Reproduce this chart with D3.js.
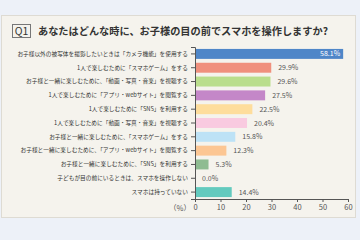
<!DOCTYPE html>
<html>
<head>
<meta charset="utf-8">
<script src="https://cdn.jsdelivr.net/npm/d3@7"></script>
<style>
  body { margin: 0; background: #edf1f8; }
  svg { display: block; font-family: "Noto Sans CJK JP", sans-serif; }
</style>
</head>
<body>
<div id="chart"></div>
<script>
// Survey answers (%), top to bottom
const categories = [
    "お子様以外の被写体を撮影したいときは「カメラ機能」を使用する",
    "1人で楽しむために「スマホゲーム」をする",
    "お子様と一緒に楽しむために、「動画・写真・音楽」を視聴する",
    "1人で楽しむために「アプリ・webサイト」を閲覧する",
    "1人で楽しむために「SNS」を利用する",
    "1人で楽しむために「動画・写真・音楽」を視聴する",
    "お子様と一緒に楽しむために、「スマホゲーム」をする",
    "お子様と一緒に楽しむために、「アプリ・webサイト」を閲覧する",
    "お子様と一緒に楽しむために、「SNS」を利用する",
    "子どもが目の前にいるときは、スマホを操作しない",
    "スマホは持っていない"
];
const values = [58.1, 29.9, 29.6, 27.5, 22.5, 20.4, 15.8, 12.3, 5.3, 0.0, 14.4];
const barColors = ["#4f86c8", "#f0907d", "#bade8c", "#c487c8", "#fedd9c", "#f9cae0",
                   "#bde2f6", "#fcc693", "#8fbc91", "#cccccc", "#63cabe"];
const xTicks = [0, 10, 20, 30, 40, 50, 60];

const W = 360, H = 240;
const svg = d3.select("#chart").append("svg").attr("width", W).attr("height", H);

// panel
svg.append("rect").attr("x", 1.5).attr("y", 15.5).attr("width", 354).attr("height", 202)
    .attr("fill", "#f5f3ed").attr("stroke", "#dedbd3");

// title
svg.append("rect").attr("x", 12.5).attr("y", 24.5).attr("width", 18).attr("height", 13)
    .attr("fill", "none").attr("stroke", "#777");
svg.append("text").attr("x", 21.5).attr("y", 35).attr("text-anchor", "middle")
    .attr("font-size", 10.5).attr("fill", "#333").text("Q1");
svg.append("text").attr("x", 38).attr("y", 35)
    .attr("font-size", 10.2).attr("font-weight", "bold").attr("fill", "#333")
    .text("あなたはどんな時に、お子様の目の前でスマホを操作しますか?");

const x = d3.scaleLinear().domain([0, 60]).range([195, 348]);
const y = d3.scaleBand().domain(categories).range([47, 199]).paddingInner(0.28).paddingOuter(0.14);

const g = svg.append("g");

// bars
g.selectAll(".bar")
    .data(categories)
    .enter()
    .append("rect")
    .attr("class", "bar")
    .attr("x", x(0))
    .attr("y", d => y(d))
    .attr("width", (d, i) => x(values[i]) - x(0))
    .attr("height", y.bandwidth())
    .attr("fill", (d, i) => barColors[i]);

// value labels
g.selectAll(".val")
    .data(categories)
    .enter()
    .append("text")
    .attr("class", "val")
    .attr("x", (d, i) => i === 0 ? x(values[i]) - 3 : x(values[i]) + 7)
    .attr("y", d => y(d) + y.bandwidth() / 2 + 2.5)
    .attr("text-anchor", (d, i) => i === 0 ? "end" : "start")
    .attr("font-size", 7)
    .attr("fill", (d, i) => i === 0 ? "#fff" : "#555")
    .text((d, i) => values[i].toFixed(1) + "%");

// y axis
const yAxis = d3.axisLeft(y).tickSize(4).tickPadding(3);
const ya = g.append("g").attr("transform", `translate(${x(0)},0)`).call(yAxis);
ya.select(".domain").attr("stroke", "#555");
ya.selectAll(".tick line").attr("stroke", "#555");
ya.selectAll(".tick text").attr("font-size", 5.7).attr("fill", "#333")
    .attr("font-family", "Noto Sans CJK JP, sans-serif");

// x axis
const xAxis = d3.axisBottom(x).tickValues(xTicks).tickSize(3).tickPadding(3).tickSizeOuter(0);
const xa = g.append("g").attr("transform", `translate(0,199)`).call(xAxis);
xa.select(".domain").attr("stroke", "#555");
xa.selectAll(".tick line").attr("stroke", "#555");
xa.selectAll(".tick text").attr("font-size", 7.5).attr("fill", "#555")
    .attr("font-family", "Noto Sans CJK JP, sans-serif");

svg.append("text").attr("x", 191).attr("y", 211).attr("text-anchor", "end")
    .attr("font-size", 7.5).attr("fill", "#555").text("（%）");
</script>
</body>
</html>
